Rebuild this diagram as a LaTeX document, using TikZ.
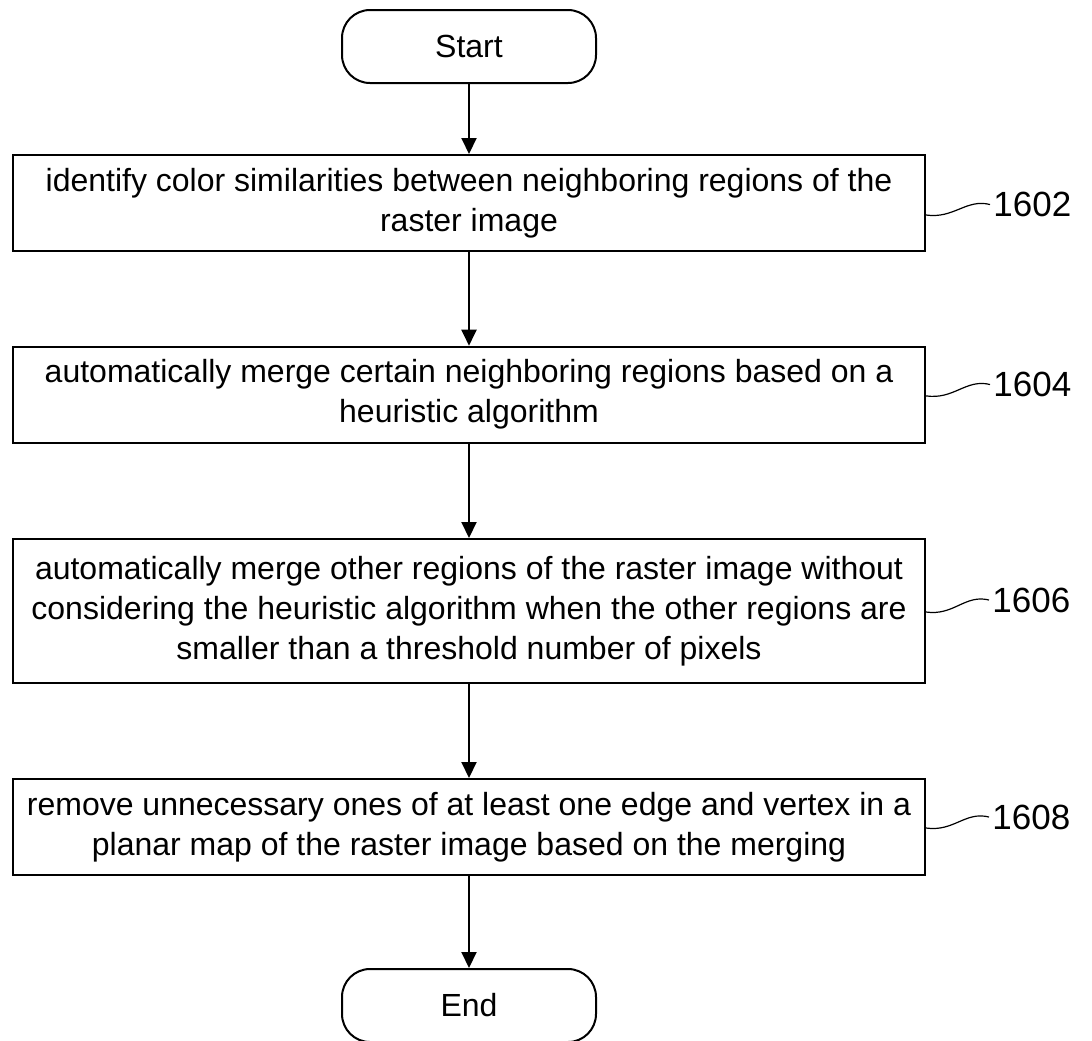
\documentclass[tikz,border=0pt]{standalone}
\usepackage{fontspec}
\setmainfont{Liberation Sans}
\usetikzlibrary{arrows.meta}
\tikzstyle{term}=[rectangle,rounded corners=14pt,draw=black,line width=1pt,
  minimum width=127pt,minimum height=36.5pt,font=\fontsize{16}{20}\selectfont]
\tikzstyle{act}=[rectangle,draw=black,line width=1pt,minimum width=456pt,
  align=center,inner sep=0pt,font=\fontsize{16}{20}\selectfont]
\tikzstyle{ref}=[inner sep=0pt,anchor=west,font=\fontsize{17.5}{20}\selectfont]
\tikzstyle{flow}=[line width=1pt,-{Triangle[width=7.5pt,length=8pt]}]
\tikzstyle{lead}=[line width=0.6pt]

\begin{document}
\begin{tikzpicture}[x=0.5pt,y=-0.5pt]
    \useasboundingbox (0,0) rectangle (1092,1040);
    \node [style=term] (start) at (469,46.5) {Start};
    \node [style=act,minimum height=48pt] (identify) at (469,203)
      {identify color similarities between neighboring regions of the\\raster image};
    \node [style=act,minimum height=48pt] (merge) at (469,394.7)
      {automatically merge certain neighboring regions based on a\\heuristic algorithm};
    \node [style=act,minimum height=72pt] (mergeother) at (469,611)
      {automatically merge other regions of the raster image without\\considering the heuristic algorithm when the other regions are\\smaller than a threshold number of pixels};
    \node [style=act,minimum height=48pt] (remove) at (469,827)
      {remove unnecessary ones of at least one edge and vertex in a\\planar map of the raster image based on the merging};
    \node [style=term] (finish) at (469,1005.5) {End};
    \node [style=ref] (l1602) at (993,204.5) {1602};
    \node [style=ref] (l1604) at (993,384.5) {1604};
    \node [style=ref] (l1606) at (992,600) {1606};
    \node [style=ref] (l1608) at (992,817) {1608};
    \draw [style=flow] (start) to (identify);
    \draw [style=flow] (identify) to (merge);
    \draw [style=flow] (merge) to (mergeother);
    \draw [style=flow] (mergeother) to (remove);
    \draw [style=flow] (remove) to (finish);
    \draw [style=lead] ([yshift=-6pt]identify.east) .. controls +(14pt,-2pt) and +(-12pt,3pt) .. ([xshift=-1.5pt]l1602.west);
    \draw [style=lead] ([yshift=-0.6pt]merge.east) .. controls +(14pt,-2pt) and +(-12pt,3pt) .. ([xshift=-1.5pt]l1604.west);
    \draw [style=lead] ([yshift=-0.5pt]mergeother.east) .. controls +(14pt,-2pt) and +(-12pt,3pt) .. ([xshift=-1.5pt]l1606.west);
    \draw [style=lead] ([yshift=-0.5pt]remove.east) .. controls +(14pt,-2pt) and +(-12pt,3pt) .. ([xshift=-1.5pt]l1608.west);
  \end{tikzpicture}
\end{document}
